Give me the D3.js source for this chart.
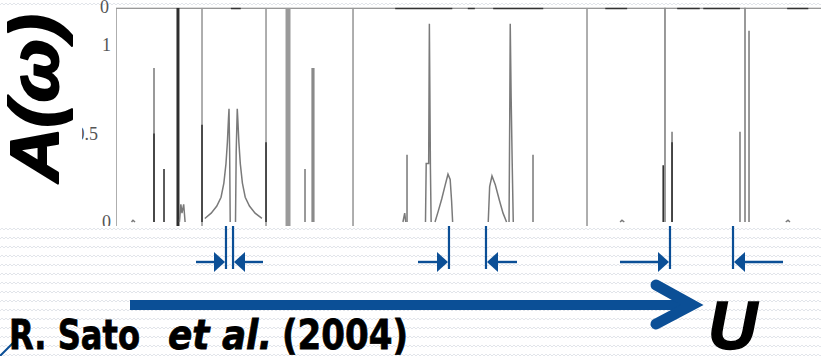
<!DOCTYPE html>
<html>
<head>
<meta charset="utf-8">
<script src="https://cdn.jsdelivr.net/npm/d3@7"></script>
<style>
  html, body { margin: 0; padding: 0; background: #fff; }
  svg { display: block; }
</style>
</head>
<body>
<svg id="chart" width="821" height="356"></svg>
<script>
// values (omega in arbitrary units 0..100, A(omega))
const yTicks = [0, 0.5, 1];
const yTickLabels = ["0", "0.5", "1"];
const yTop = 1.21;                       // zero line of the panel above

const dividers = [0, 12.20, 21.28, 33.62, 66.81];
const dividerDark = [8.79];
const dividerWide = [24.40];

const sticksLight = [[5.39, 0.87], [26.81, 0.30], [41.28, 0.38], [59.15, 0.38],
  [77.87, 1.3], [78.87, 0.51], [88.51, 0.51], [89.22, 1.3], [89.79, 1.08]];
const sticksDark = [[6.81, 0.30], [5.39, 0.5], [12.20, 0.55], [21.28, 0.45], [77.62, 0.32], [78.87, 0.45]];
const sticksWide = [[27.94, 0.87]];

const lorentzL = [[12.6, 0.02], [13.5, 0.05], [14.3, 0.09], [14.9, 0.14], [15.3, 0.22], [15.6, 0.33],
  [15.8, 0.45], [15.95, 0.58], [16.03, 0.64], [16.12, 0.4], [16.2, 0]];
const lorentzR = [[16.95, 0], [17.05, 0.4], [17.2, 0.64], [17.28, 0.58], [17.43, 0.45], [17.63, 0.33],
  [17.93, 0.22], [18.33, 0.14], [18.93, 0.09], [19.73, 0.05], [20.7, 0.02]];
const humpL = [[45.25, 0], [45.7, 0.06], [46.2, 0.13], [46.7, 0.21], [47.09, 0.27], [47.4, 0.24], [47.6, 0.12], [47.75, 0]];
const humpR = [[52.8, 0], [53.0, 0.2], [53.33, 0.26], [53.8, 0.21], [54.4, 0.12], [54.9, 0.05], [55.4, 0]];
const peakA = [[43.9, 0], [44.0, 0.33], [44.35, 0.33], [44.45, 1.12], [44.6, 0.3], [44.7, 0]];
const peakB = [[55.75, 0], [55.85, 0.6], [55.92, 1.12], [56.05, 0.7], [56.2, 0.33], [56.35, 0]];
const bumps = [
  [[2.2, 0], [2.41, 0.01], [2.7, 0]],
  [[9.0, 0], [9.2, 0.1], [9.36, 0.05], [9.6, 0.1], [9.8, 0]],
  [[40.7, 0], [40.95, 0.05], [41.1, 0]],
  [[71.5, 0], [71.77, 0.01], [72.1, 0]],
  [[95.0, 0], [95.32, 0.01], [95.6, 0]]
];
// dark bits of the upper panel showing along its zero line
const upperBase = [[16.3, 17.7], [39.6, 47.7], [49.9, 50.9], [53.5, 60.6], [69.4, 72.5], [79.6, 82.8], [83.3, 88.5], [95.2, 98.2]];

// gaps marked by the blue arrows
const gapPairs = [[15.60, 16.60], [47.23, 52.48], [78.58, 87.52]];
const arrowLen = [30, 31, 50];

const blue = "#0b4f96";
const svg = d3.select("#chart");

const x = d3.scaleLinear().domain([0, 100]).range([116, 821]);
const y = d3.scaleLinear().domain([0, 1]).range([222, 45]);

// background pattern
const defs = svg.append("defs");
const pat = defs.append("pattern")
  .attr("id", "zig").attr("width", 8).attr("height", 9)
  .attr("patternUnits", "userSpaceOnUse");
pat.append("rect").attr("width", 8).attr("height", 9).attr("fill", "#fff");
pat.append("path").attr("d", "M0,5 L2,3 L4,5 L6,3 L8,5")
  .attr("fill", "none").attr("stroke", "#e2e5ea").attr("stroke-width", 1);

defs.append("clipPath").attr("id", "plot")
  .append("rect").attr("x", x(0)).attr("y", y(yTop)).attr("width", 821 - x(0)).attr("height", 226 - y(yTop));
defs.append("clipPath").attr("id", "lab")
  .append("rect").attr("x", 82).attr("y", 0).attr("width", 40).attr("height", 226);

svg.append("rect").attr("width", 821).attr("height", 356).attr("fill", "url(#zig)");
svg.append("rect").attr("x", 0).attr("y", y(yTop)).attr("width", 821).attr("height", 226 - y(yTop)).attr("fill", "#fff");

// tick labels
const labels = svg.append("g").attr("clip-path", "url(#lab)")
  .style("font-family", "'Liberation Serif', serif").style("font-size", "18px").attr("fill", "#555");
labels.selectAll("text").data(yTicks).join("text")
  .attr("x", d => d === 0.5 ? 98 : 111)
  .attr("y", d => y(d)).attr("dy", "0.36em")
  .attr("text-anchor", "end")
  .text((d, i) => yTickLabels[i]);
labels.append("text").attr("x", 109).attr("y", y(yTop) - 1).attr("dy", "0.36em")
  .attr("text-anchor", "end").text("0");

const plot = svg.append("g").attr("clip-path", "url(#plot)");

// frame
plot.append("line").attr("x1", x(0)).attr("x2", 821).attr("y1", y(yTop)).attr("y2", y(yTop))
  .attr("stroke", "#777").attr("stroke-width", 2);
plot.selectAll(".ub").data(upperBase).join("line")
  .attr("x1", d => x(d[0])).attr("x2", d => x(d[1]))
  .attr("y1", y(yTop) + 0.5).attr("y2", y(yTop) + 0.5)
  .attr("stroke", "#333").attr("stroke-width", 2);

// panel dividers
const vline = (sel, data, color, w) => sel.selectAll(null).data(data).join("line")
  .attr("x1", d => x(d)).attr("x2", d => x(d))
  .attr("y1", y(yTop)).attr("y2", 226)
  .attr("stroke", color).attr("stroke-width", w);
vline(plot, dividers, "#9a9a9a", 1.6);
vline(plot, dividerWide, "#9a9a9a", 5);
vline(plot, dividerDark, "#2e2e2e", 3);

// sticks
const sticks = (data, color, w) => plot.selectAll(null).data(data).join("line")
  .attr("x1", d => x(d[0])).attr("x2", d => x(d[0]))
  .attr("y1", y(0)).attr("y2", d => y(d[1]))
  .attr("stroke", color).attr("stroke-width", w);
sticks(sticksLight, "#8e8e8e", 1.8);
sticks(sticksWide, "#8a8a8a", 3.2);
sticks(sticksDark, "#333", 1.6);

// curves
const line = d3.line().x(d => x(d[0])).y(d => y(d[1]));
[lorentzL, lorentzR, humpL, humpR, peakA, peakB, ...bumps].forEach(c => {
  plot.append("path").attr("d", line(c))
    .attr("fill", "none").attr("stroke", "#7a7a7a").attr("stroke-width", 1.5);
});

// blue gap arrows
const arr = svg.append("g").attr("fill", blue).attr("stroke", blue);
gapPairs.forEach((p, i) => {
  const a = x(p[0]), b = x(p[1]), L = arrowLen[i];
  [a, b].forEach(v => arr.append("line").attr("x1", v).attr("x2", v)
    .attr("y1", 226).attr("y2", 269).attr("stroke-width", 2.2));
  arr.append("line").attr("x1", a - L).attr("x2", a - 6).attr("y1", 262).attr("y2", 262).attr("stroke-width", 2.4);
  arr.append("path").attr("stroke", "none")
    .attr("d", `M${a - 1},262 L${a - 12},252 L${a - 12},272 Z`);
  arr.append("line").attr("x1", b + L).attr("x2", b + 6).attr("y1", 262).attr("y2", 262).attr("stroke-width", 2.4);
  arr.append("path").attr("stroke", "none")
    .attr("d", `M${b + 1},262 L${b + 12},252 L${b + 12},272 Z`);
});

// big U arrow
svg.append("line").attr("x1", 130).attr("x2", 688).attr("y1", 305).attr("y2", 305)
  .attr("stroke", blue).attr("stroke-width", 10);
svg.append("polyline").attr("points", "656,285 692,305 656,324")
  .attr("fill", "none").attr("stroke", blue).attr("stroke-width", 11)
  .attr("stroke-linecap", "round").attr("stroke-linejoin", "miter");
svg.append("path").attr("d", "M0,356 L14,342").attr("stroke", blue).attr("stroke-width", 2);

// texts
svg.append("text").attr("transform", "translate(58,98) rotate(-90)")
  .attr("text-anchor", "middle")
  .attr("textLength", 168).attr("lengthAdjust", "spacingAndGlyphs")
  .attr("stroke", "#000").attr("stroke-width", 2).attr("stroke-linejoin", "round")
  .style("font-family", "'Liberation Sans', Arial, sans-serif")
  .style("font-weight", "bold").style("font-style", "italic").style("font-size", "68px")
  .text("A(ω)");
svg.append("text").attr("x", 708).attr("y", 349)
  .attr("stroke", "#000").attr("stroke-width", 1.5)
  .style("font-family", "'Liberation Sans', Arial, sans-serif")
  .style("font-weight", "bold").style("font-style", "italic").style("font-size", "68px")
  .text("U");

const cite = [
  { t: "R. Sato", x0: 9, x1: 140, it: false },
  { t: "et al.", x0: 168, x1: 272, it: true },
  { t: "(2004)", x0: 282, x1: 408, it: false }
];
svg.selectAll(".cite").data(cite).join("text")
  .attr("x", d => d.x0).attr("y", 349)
  .attr("textLength", d => d.x1 - d.x0).attr("lengthAdjust", "spacingAndGlyphs")
  .attr("stroke", "#000").attr("stroke-width", 0.8)
  .style("font-family", "'DejaVu Sans', sans-serif").style("font-weight", "bold")
  .style("font-style", d => d.it ? "italic" : "normal").style("font-size", "40px")
  .text(d => d.t);
</script>
</body>
</html>
